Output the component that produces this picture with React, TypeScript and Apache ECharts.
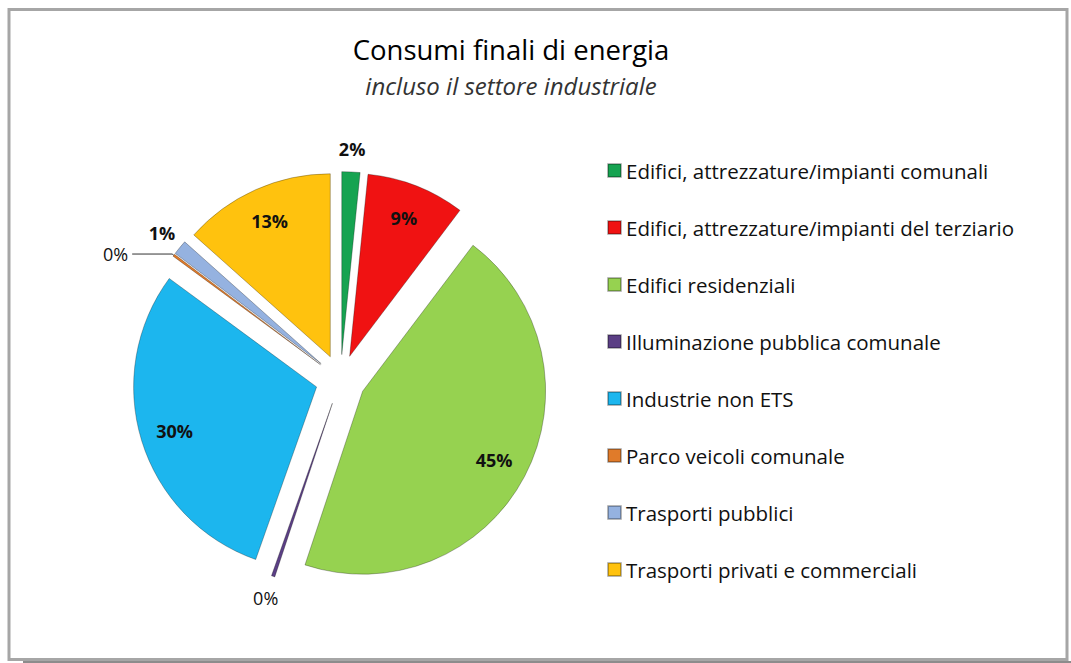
import React, { useEffect, useRef } from "react";
import * as echarts from "echarts";

const titleText = "Consumi finali di energia";
const subtitleText = "incluso il settore industriale";

const categories = [
  "Edifici, attrezzature/impianti comunali",
  "Edifici, attrezzature/impianti del terziario",
  "Edifici residenziali",
  "Illuminazione pubblica comunale",
  "Industrie non ETS",
  "Parco veicoli comunale",
  "Trasporti pubblici",
  "Trasporti privati e commerciali",
];

const values = [1.6, 8.7, 44.8, 0.3, 29.7, 0.2, 1.3, 13.4];

const sliceColors = [
  "#16a351",
  "#f01212",
  "#96d250",
  "#5b3f85",
  "#1cb6ee",
  "#e07b2a",
  "#95b2e0",
  "#ffc20e",
];

// where each slice's percentage label goes
const labelMode = ["outer", "inner", "inner", "outer", "inner", "leader", "outer", "inner"];

const FONT = "'Open Sans', Lato, sans-serif";
const CENTER = [340.5, 379.6];
const R = 183;
const OFFSET = 25;

const pct = (v: number) => Math.round(v) + "%";

export default function App() {
  const ref = useRef<HTMLDivElement>(null);

  useEffect(() => {
    if (!ref.current) return;
    const chart = echarts.init(ref.current, undefined, { renderer: "svg" });

    const mainData = categories.map((name, i) => ({
      name,
      value: values[i],
      selected: true,
      itemStyle: { color: sliceColors[i] },
      label:
        labelMode[i] === "leader"
          ? {
              show: true,
              position: "outside",
              formatter: () => pct(values[i]),
              fontSize: 18,
              fontFamily: FONT,
              fontWeight: "normal",
              color: "#111",
              distanceToLabelLine: 4,
            }
          : { show: false },
      labelLine:
        labelMode[i] === "leader"
          ? { show: true, length: 2, length2: 40, smooth: false, lineStyle: { color: "#333", width: 1 } }
          : { show: false },
    }));

    const overlayData = (mode: string, weight: string) =>
      categories.map((name, i) => ({
        name,
        value: values[i],
        selected: true,
        itemStyle: { color: "rgba(0,0,0,0)", borderWidth: 0 },
        label:
          labelMode[i] === mode
            ? {
                show: true,
                position: "inside",
                formatter: () => pct(values[i]),
                fontSize: 18,
                fontFamily: FONT,
                fontWeight: Math.round(values[i]) === 0 ? "normal" : weight,
                color: "#111",
              }
            : { show: false },
        labelLine: { show: false },
      }));

    const common = {
      type: "pie",
      center: CENTER,
      startAngle: 90,
      clockwise: true,
      selectedMode: "multiple",
      selectedOffset: OFFSET,
      avoidLabelOverlap: false,
      legendHoverLink: false,
      emphasis: { disabled: true },
    };

    chart.setOption({
      animation: false,
      backgroundColor: "#ffffff",
      legend: {
        orient: "vertical",
        left: 602,
        top: 155,
        itemWidth: 13,
        itemHeight: 13,
        itemGap: 36,
        icon: "rect",
        selectedMode: false,
        data: categories,
        textStyle: { fontSize: 20.5, fontFamily: FONT, color: "#111", lineHeight: 21 },
      },
      graphic: [
        {
          type: "rect",
          shape: { x: 9, y: 9.5, width: 1058, height: 650 },
          style: { fill: "none", stroke: "#a6a6a6", lineWidth: 3 },
          silent: true,
        },
        {
          type: "line",
          shape: { x1: 23, y1: 662, x2: 1071, y2: 662 },
          style: { stroke: "#8c8c8c", lineWidth: 2 },
          silent: true,
        },
        {
          type: "text",
          x: 511,
          y: 49,
          style: {
            text: titleText,
            fontSize: 27.5,
            fontFamily: FONT,
            fill: "#000",
            align: "center",
            verticalAlign: "middle",
          },
          silent: true,
        },
        {
          type: "text",
          x: 511,
          y: 85,
          style: {
            text: subtitleText,
            fontSize: 24,
            fontStyle: "italic",
            fontFamily: FONT,
            fill: "#333",
            align: "center",
            verticalAlign: "middle",
          },
          silent: true,
        },
      ],
      series: [
        {
          ...common,
          name: "main",
          radius: R,
          itemStyle: { borderColor: "rgba(0,0,0,0.28)", borderWidth: 1 },
          data: mainData,
        },
        {
          ...common,
          name: "innerLabels",
          radius: [108, R],
          silent: true,
          data: overlayData("inner", "bold"),
        },
        {
          ...common,
          name: "outerLabels",
          radius: [R + 3, R + 37],
          silent: true,
          data: overlayData("outer", "bold"),
        },
      ],
    });

    return () => chart.dispose();
  }, []);

  return (
    <div
      ref={ref}
      style={{ position: "fixed", left: 0, top: 0, width: 1071, height: 663 }}
    />
  );
}
